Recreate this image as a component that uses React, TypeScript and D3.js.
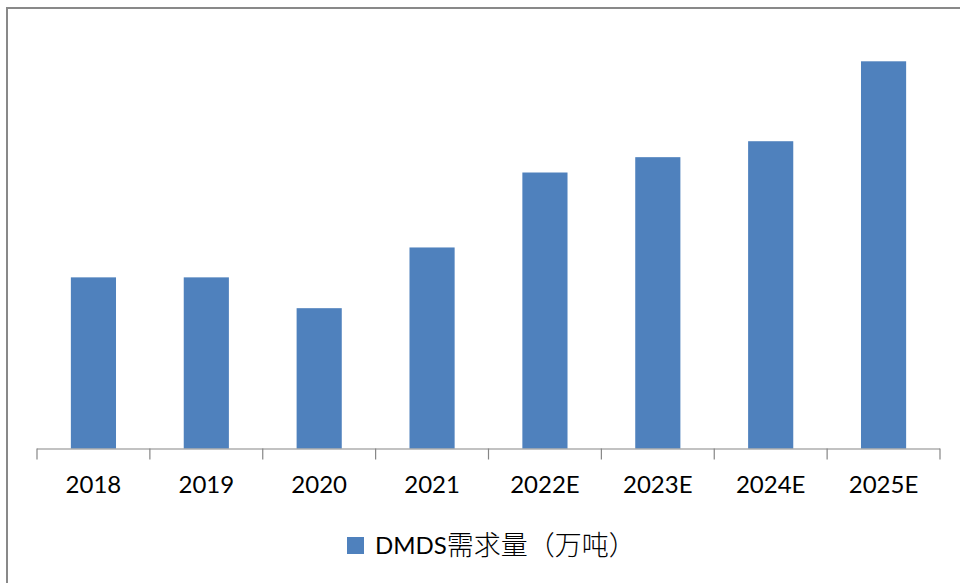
import React from "react";
import * as d3 from "d3";

const categories = ["2018", "2019", "2020", "2021", "2022E", "2023E", "2024E", "2025E"];
const demand = [11.05, 11.05, 9.06, 12.98, 17.82, 18.81, 19.84, 25.0];
const seriesLatin = "DMDS";
const seriesCjk = "需求量（万吨）";

const W = 960;
const H = 583;
const x0 = 37;
const x1 = 940;
const baseY = 448.5;
const topY = 61.3;
const barColor = "#4f81bd";
const font = "Lato, 'Open Sans', 'Noto Sans CJK SC', sans-serif";
const cjkFont = "'Noto Sans CJK SC', sans-serif";

export default function App() {
  const x = d3.scaleBand<string>().domain(categories).range([x0, x1]).paddingInner(0.6).paddingOuter(0.3);
  const y = d3.scaleLinear().domain([0, 25]).range([baseY, topY]);
  const band = (x1 - x0) / categories.length;
  const ticks = d3.range(categories.length + 1).map((i) => x0 + i * band);

  return (
    <svg width={W} height={H} style={{ position: "absolute", left: 0, top: 0, background: "#fff" }}>
      <rect x={0} y={0} width={W} height={H} fill="#fff" />
      <rect x={7} y={8} width={W + 10} height={H + 10} fill="none" stroke="#898989" strokeWidth={2} />
      {demand.map((v, i) => (
        <rect
          key={categories[i]}
          x={x(categories[i])}
          y={y(v)}
          width={x.bandwidth()}
          height={baseY - y(v)}
          fill={barColor}
        />
      ))}
      <line x1={x0} x2={x1} y1={baseY + 0.5} y2={baseY + 0.5} stroke="#868686" strokeWidth={1.2} />
      {ticks.map((t, i) => (
        <line key={i} x1={t} x2={t} y1={baseY} y2={baseY + 11} stroke="#868686" strokeWidth={1.2} />
      ))}
      {categories.map((c) => (
        <text
          key={c}
          x={(x(c) as number) + x.bandwidth() / 2}
          y={493}
          textAnchor="middle"
          fontFamily={font}
          fontSize={24}
          fill="#000"
        >
          {c}
        </text>
      ))}
      <rect x={347} y={537} width={17} height={17} fill={barColor} />
      <text x={375} y={554} fontFamily={font} fontSize={24} fill="#000">
        <tspan>{seriesLatin}</tspan>
        <tspan fontFamily={cjkFont} fontSize={27} fontWeight={300} dy={1}>{seriesCjk}</tspan>
      </text>
    </svg>
  );
}
